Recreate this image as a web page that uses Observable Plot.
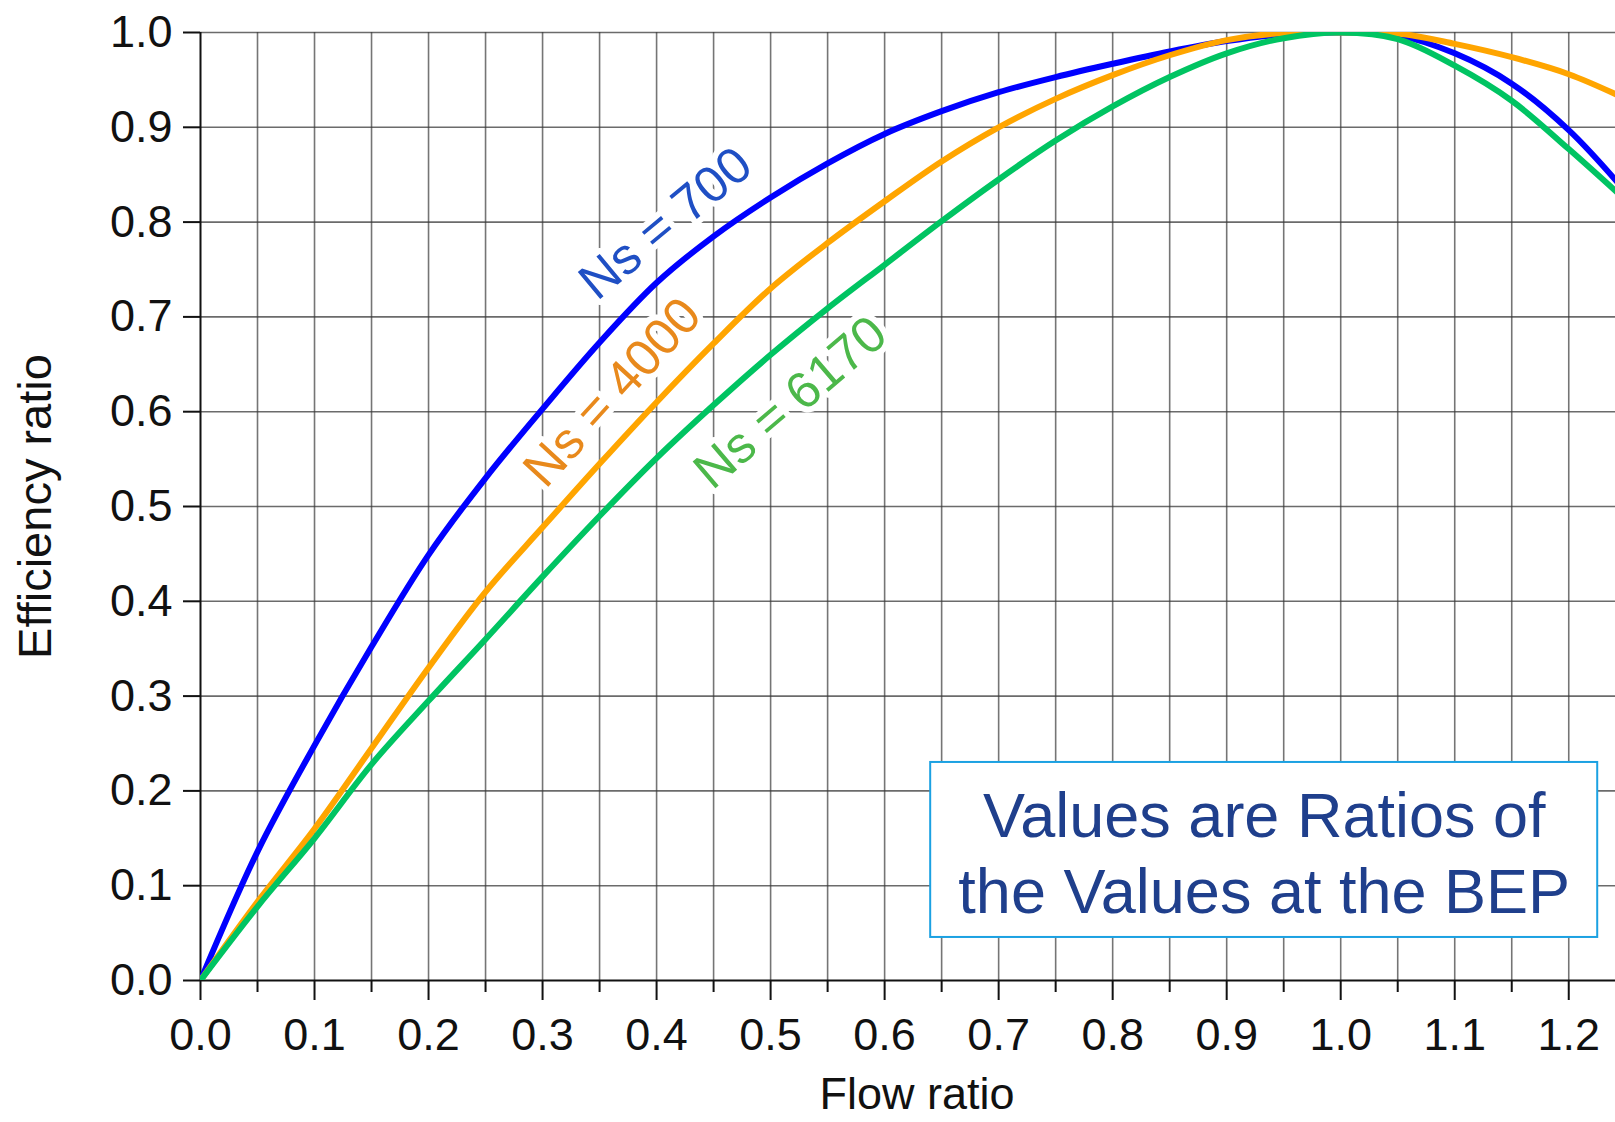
<!DOCTYPE html>
<html><head><meta charset="utf-8">
<script src="https://cdn.jsdelivr.net/npm/d3@7"></script>
<script src="https://cdn.jsdelivr.net/npm/@observablehq/plot@0.6"></script>
<style>body{margin:0;background:#fff}#chart svg{display:block}</style>
</head><body><div id="chart"></div>
<script>
// ---- data ----
const flowRatio  = [0,0.05,0.10,0.15,0.20,0.25,0.30,0.35,0.40,0.45,0.50,0.55,0.60,0.65,0.70,0.75,0.80,0.85,0.90,0.95,1.00,1.05,1.10,1.15,1.20,1.25];
const effNs700   = [0,0.136,0.248,0.352,0.449,0.530,0.603,0.673,0.736,0.785,0.826,0.862,0.893,0.917,0.937,0.953,0.967,0.980,0.991,0.998,1.000,0.997,0.978,0.946,0.897,0.832];
const effNs4000  = [0,0.083,0.160,0.245,0.330,0.410,0.478,0.545,0.610,0.672,0.730,0.778,0.822,0.864,0.900,0.930,0.955,0.976,0.992,0.9995,1.000,0.999,0.988,0.974,0.956,0.930];
const effNs6170  = [0,0.078,0.150,0.228,0.295,0.360,0.426,0.490,0.551,0.607,0.660,0.709,0.755,0.801,0.845,0.886,0.922,0.953,0.978,0.994,1.000,0.993,0.965,0.928,0.877,0.823];
const seriesNames  = ["Ns = 700","Ns = 4000","Ns = 6170"];
const seriesColors = ["#0000ff","#ffa500","#00c462"];
const labelColors  = ["#1f4fc4","#e8891c","#4cb84a"];
const labelX       = [0.408,0.3614,0.5175];
const labelY       = [0.7985,0.6203,0.6097];
const labelAngle   = [-39.7,-47.5,-40.5];
const xTicks      = [0,0.1,0.2,0.3,0.4,0.5,0.6,0.7,0.8,0.9,1.0,1.1,1.2];
const xMinorTicks = [0.05,0.15,0.25,0.35,0.45,0.55,0.65,0.75,0.85,0.95,1.05,1.15];
const xGrid       = [0.05,0.1,0.15,0.2,0.25,0.3,0.35,0.4,0.45,0.5,0.55,0.6,0.65,0.7,0.75,0.8,0.85,0.9,0.95,1.0,1.05,1.1,1.15,1.2];
const yTicks      = [0,0.1,0.2,0.3,0.4,0.5,0.6,0.7,0.8,0.9,1.0];
const xTitle = "Flow ratio";
const yTitle = "Efficiency ratio";
const noteText = "Values are Ratios of\nthe Values at the BEP";
const noteBox  = [{x1:0.6404, x2:1.2254, y1:0.0454, y2:0.23}];
const noteAt   = [{x:0.9329, y:0.1366, text:noteText}];

// ---- tables ----
const seriesValues = [effNs700, effNs4000, effNs6170];
const rows = seriesNames.flatMap((name, i) => flowRatio.map((x, j) => ({series:name, x, y:seriesValues[i][j]})));
const labels = seriesNames.map((name, i) => ({text:name, x:labelX[i], y:labelY[i], rotate:labelAngle[i], color:labelColors[i]}));

const font = "'Liberation Sans', Arial, sans-serif";
const chart = Plot.plot({
  width: 1615, height: 1122,
  marginLeft: 200, marginRight: 0, marginTop: 32, marginBottom: 142,
  style: {fontFamily: font, background: "white", color: "#111"},
  x: {domain: [0, 1.241]},
  y: {domain: [0, 1]},
  color: {domain: seriesNames, range: seriesColors},
  marks: [
    Plot.ruleX(xGrid, {stroke: "#3a3a3a", strokeOpacity: 0.7, strokeWidth: 1.6}),
    Plot.ruleY(yTicks.slice(1), {stroke: "#3a3a3a", strokeOpacity: 0.75, strokeWidth: 1.6}),
    Plot.axisY({ticks: yTicks, tickSize: 17, tickPadding: 11, fontSize: 45, tickFormat: d3.format(".1f"), label: null, color: "#111", strokeWidth: 2}),
    Plot.axisX({ticks: xTicks, tickSize: 20, tickPadding: 18, fontSize: 45, tickFormat: d3.format(".1f"), label: null, color: "#111", strokeWidth: 2}),
    Plot.axisX({ticks: xMinorTicks, tickSize: 12, tickFormat: () => "", label: null, color: "#111", strokeWidth: 2}),
    Plot.ruleX([0], {stroke: "#111", strokeWidth: 2}),
    Plot.ruleY([0], {stroke: "#111", strokeWidth: 2}),
    Plot.text(labels, {x: "x", y: "y", text: "text", rotate: "rotate", fill: "color", fontSize: 51, stroke: "white", strokeWidth: 12, textAnchor: "middle", lineAnchor: "middle"}),
    Plot.line(rows, {x: "x", y: "y", stroke: "series", z: "series", curve: "catmull-rom", strokeWidth: 6, clip: true}),
    Plot.rect(noteBox, {x1: "x1", x2: "x2", y1: "y1", y2: "y2", fill: "white", stroke: "#1ba1e2", strokeWidth: 2}),
    Plot.text(noteAt, {x: "x", y: "y", text: "text", fontSize: 63, lineHeight: 1.2, fill: "#1f3f8c", textAnchor: "middle", lineAnchor: "middle"}),
    Plot.text([yTitle], {frameAnchor: "left", dx: -165, rotate: -90, fontSize: 47, textAnchor: "middle", lineAnchor: "middle", fill: "#111"}),
    Plot.text([xTitle], {frameAnchor: "bottom", dx: 9, dy: 114, fontSize: 45, textAnchor: "middle", lineAnchor: "middle", fill: "#111"})
  ]
});
document.getElementById("chart").append(chart);
</script>
</body></html>
